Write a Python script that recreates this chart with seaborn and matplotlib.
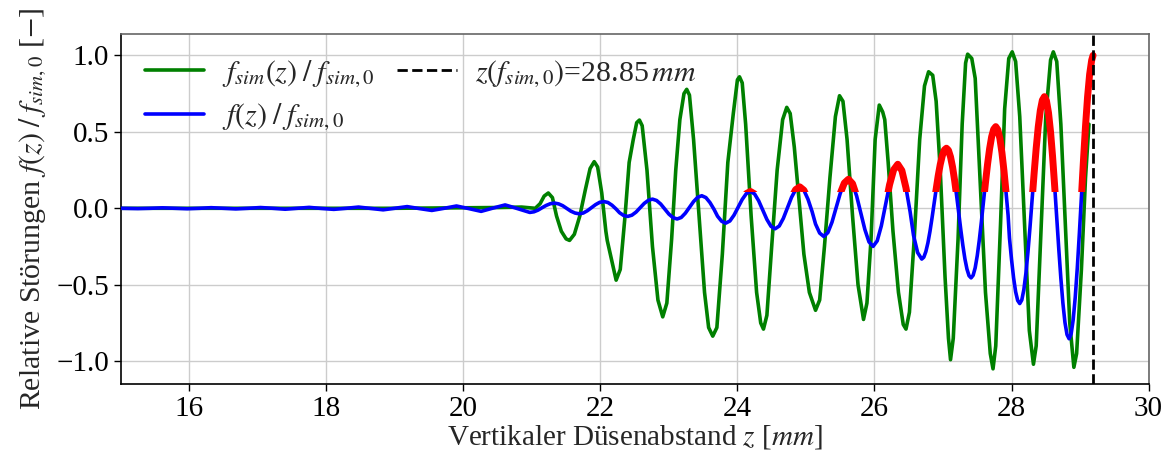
import numpy as np
import pandas as pd
import matplotlib
matplotlib.use("Agg")
import matplotlib.pyplot as plt
from matplotlib.patches import Rectangle
import seaborn as sns

# Simulated disturbance f_sim(z)/f_sim,0 along the nozzle distance z [mm]
z_sim = [15.00, 16.00, 17.00, 18.00, 19.00, 19.80, 20.50, 20.85, 20.95, 21.05,
         21.12, 21.18, 21.24, 21.30, 21.36, 21.43, 21.50, 21.55, 21.62, 21.70,
         21.78, 21.85, 21.91, 21.96, 22.02, 22.08, 22.10, 22.16, 22.23, 22.29,
         22.36, 22.42, 22.48, 22.53, 22.57, 22.61, 22.68, 22.76, 22.84, 22.91,
         22.97, 23.04, 23.10, 23.16, 23.22, 23.26, 23.30, 23.36, 23.44, 23.52,
         23.58, 23.64, 23.70, 23.78, 23.86, 23.94, 24.00, 24.03, 24.07, 24.12,
         24.20, 24.28, 24.34, 24.38, 24.43, 24.50, 24.58, 24.66, 24.72, 24.77,
         24.83, 24.90, 24.97, 25.05, 25.14, 25.20, 25.27, 25.35, 25.43, 25.49,
         25.54, 25.60, 25.68, 25.76, 25.84, 25.89, 25.95, 26.01, 26.07, 26.12,
         26.15, 26.20, 26.27, 26.35, 26.42, 26.46, 26.51, 26.58, 26.66, 26.73,
         26.79, 26.85, 26.90, 26.96, 27.03, 27.08, 27.11, 27.15, 27.22, 27.28,
         27.33, 27.36, 27.42, 27.47, 27.54, 27.62, 27.69, 27.73, 27.77, 27.84,
         27.90, 27.96, 28.01, 28.06, 28.12, 28.19, 28.26, 28.32, 28.36, 28.43,
         28.50, 28.57, 28.61, 28.66, 28.72, 28.79, 28.85, 28.91, 28.95, 29.02,
         29.08, 29.13]
f_sim = [0.000, 0.000, 0.000, 0.000, 0.000, 0.003, 0.005, 0.008, 0.004, 0.000,
         0.030, 0.080, 0.100, 0.070, -0.050, -0.150, -0.200, -0.210, -0.170, -0.050,
         0.120, 0.260, 0.305, 0.270, 0.100, -0.150, -0.210, -0.330, -0.470, -0.400,
         -0.050, 0.300, 0.450, 0.560, 0.577, 0.540, 0.250, -0.250, -0.600, -0.710,
         -0.620, -0.200, 0.250, 0.580, 0.750, 0.778, 0.740, 0.450, -0.050, -0.550,
         -0.780, -0.836, -0.780, -0.300, 0.300, 0.620, 0.840, 0.860, 0.820, 0.550,
         -0.050, -0.550, -0.750, -0.790, -0.700, -0.250, 0.250, 0.580, 0.660, 0.620,
         0.400, 0.050, -0.300, -0.550, -0.667, -0.600, -0.250, 0.200, 0.600, 0.736,
         0.700, 0.450, -0.050, -0.500, -0.727, -0.620, -0.200, 0.450, 0.675, 0.630,
         0.580, 0.300, -0.150, -0.550, -0.760, -0.790, -0.680, -0.200, 0.450, 0.800,
         0.893, 0.870, 0.700, 0.250, -0.450, -0.850, -0.990, -0.850, -0.200, 0.550,
         0.950, 1.008, 0.980, 0.850, 0.200, -0.550, -0.950, -1.050, -0.900, -0.100,
         0.650, 0.980, 1.023, 0.960, 0.600, -0.100, -0.800, -1.020, -0.900, -0.150,
         0.600, 0.970, 1.023, 0.960, 0.550, -0.150, -0.750, -1.040, -0.950, -0.400,
         0.200, 0.550]

# Model disturbance f(z)/f_sim,0
z_mod = [15.00, 15.25, 15.43, 15.61, 15.79, 15.97, 16.15, 16.32, 16.50, 16.68,
         16.86, 17.04, 17.22, 17.40, 17.58, 17.75, 17.93, 18.11, 18.29, 18.47,
         18.65, 18.83, 19.00, 19.18, 19.36, 19.54, 19.72, 19.90, 20.08, 20.26,
         20.43, 20.61, 20.79, 20.97,
         21.03, 21.09, 21.15, 21.21, 21.27, 21.33,
         21.39, 21.45, 21.51, 21.57, 21.63, 21.69,
         21.75, 21.81, 21.87, 21.93, 21.99, 22.05,
         22.11, 22.17, 22.23, 22.28, 22.34, 22.40,
         22.46, 22.52, 22.58, 22.64, 22.70, 22.76,
         22.82, 22.88, 22.94, 23.00, 23.06, 23.12,
         23.18, 23.24, 23.30, 23.36, 23.42, 23.48,
         23.54, 23.60, 23.66, 23.71, 23.77, 23.83,
         23.89, 23.95, 24.01, 24.07, 24.13, 24.19,
         24.25, 24.31, 24.37, 24.43, 24.49, 24.55,
         24.61, 24.67, 24.73, 24.79, 24.85, 24.91,
         24.97, 25.03, 25.09, 25.14, 25.20, 25.26,
         25.32, 25.38, 25.44, 25.50, 25.56, 25.62,
         25.68, 25.74, 25.80, 25.86, 25.92, 25.98,
         26.04, 26.10, 26.16, 26.22, 26.28, 26.34,
         26.40, 26.46, 26.52, 26.57, 26.63, 26.69,
         26.72, 26.75, 26.78, 26.81, 26.84, 26.87, 26.90, 26.93, 26.96, 26.99, 27.02, 27.05,
         27.08, 27.11, 27.14, 27.17, 27.20, 27.23, 27.26, 27.29, 27.32, 27.35, 27.38, 27.41,
         27.44, 27.47, 27.50, 27.53, 27.56, 27.59, 27.62, 27.65, 27.68, 27.71, 27.74, 27.77,
         27.80, 27.83, 27.86, 27.89, 27.92, 27.95, 27.97, 28.00, 28.03, 28.06, 28.09, 28.12,
         28.15, 28.18, 28.21, 28.24, 28.27, 28.30, 28.33, 28.36, 28.39, 28.42, 28.45, 28.48,
         28.51, 28.54, 28.57, 28.60, 28.63, 28.66, 28.69, 28.72, 28.75, 28.78, 28.81, 28.84,
         28.87, 28.90, 28.93, 28.96, 28.99, 29.02, 29.05, 29.08, 29.11, 29.14, 29.17, 29.19]
f_mod = [0.000, -0.002, 0.000, 0.003, 0.000, -0.003, 0.000, 0.004, 0.000, -0.004,
         0.000, 0.005, -0.000, -0.006, 0.000, 0.006, -0.001, -0.007, 0.000, 0.008,
         -0.001, -0.010, 0.000, 0.011, -0.002, -0.014, 0.000, 0.015, -0.002, -0.020,
         0.001, 0.022, -0.002, -0.027,
         -0.023, -0.012, 0.004, 0.019, 0.030, 0.034,
         0.029, 0.017, -0.001, -0.019, -0.031, -0.036,
         -0.031, -0.016, 0.004, 0.024, 0.039, 0.044,
         0.038, 0.020, -0.005, -0.029, -0.047, -0.053,
         -0.045, -0.025, 0.004, 0.032, 0.052, 0.060,
         0.051, 0.028, -0.005, -0.038, -0.061, -0.070,
         -0.060, -0.032, 0.006, 0.044, 0.072, 0.082,
         0.070, 0.037, -0.008, -0.052, -0.085, -0.097,
         -0.083, -0.045, 0.007, 0.058, 0.096, 0.110,
         0.094, 0.049, -0.012, -0.073, -0.118, -0.134,
         -0.116, -0.066, 0.003, 0.072, 0.122, 0.140,
         0.118, 0.059, -0.022, -0.103, -0.162, -0.184,
         -0.159, -0.091, 0.003, 0.097, 0.165, 0.190,
         0.161, 0.080, -0.030, -0.139, -0.220, -0.249,
         -0.213, -0.115, 0.020, 0.154, 0.252, 0.288,
         0.247, 0.133, -0.022, -0.177, -0.290, -0.332,
         -0.320, -0.283, -0.226, -0.151, -0.063, 0.031, 0.124, 0.212, 0.287, 0.344, 0.381, 0.393,
         0.379, 0.336, 0.269, 0.181, 0.079, -0.031, -0.141, -0.243, -0.331, -0.398, -0.441, -0.455,
         -0.438, -0.389, -0.310, -0.208, -0.089, 0.040, 0.168, 0.287, 0.389, 0.468, 0.517, 0.534,
         0.514, 0.457, 0.365, 0.245, 0.105, -0.045, -0.194, -0.334, -0.454, -0.546, -0.603, -0.623,
         -0.600, -0.532, -0.425, -0.285, -0.122, 0.054, 0.229, 0.392, 0.532, 0.639, 0.707, 0.730,
         0.703, 0.624, 0.498, 0.334, 0.144, -0.062, -0.267, -0.457, -0.621, -0.747, -0.826, -0.853,
         -0.822, -0.729, -0.582, -0.390, -0.166, 0.074, 0.313, 0.537, 0.729, 0.876, 0.969, 1.000]

# Crests of the model curve above this level are highlighted
crest_level = 0.1
z_ref_label = "28.85"

x_ticks = [16, 18, 20, 22, 24, 26, 28, 30]
y_ticks = [-1.0, -0.5, 0.0, 0.5, 1.0]

sns.set_theme(style="whitegrid")
plt.rcParams["font.family"] = ["Liberation Serif", "DejaVu Serif"]
plt.rcParams["mathtext.fontset"] = "stix"
plt.rcParams.update({
    "grid.color": "#cccccc",
    "grid.linewidth": 1.0,
    "xtick.bottom": True,
    "ytick.left": True,
    "xtick.direction": "out",
    "ytick.direction": "out",
    "xtick.major.size": 5,
    "ytick.major.size": 5,
    "xtick.color": "black",
    "ytick.color": "black",
})

sim_df = pd.DataFrame({"z": z_sim, "f": f_sim})
mod_df = pd.DataFrame({"z": z_mod, "f": f_mod})

fig, ax = plt.subplots(figsize=(11.72, 4.53), dpi=100)
fig.subplots_adjust(left=0.103, right=0.980, top=0.924, bottom=0.152)

sns.lineplot(data=sim_df, x="z", y="f", color="green", lw=2.6, sort=False,
             estimator=None, ax=ax, label=r"$f_{sim}(z)\;/\;f_{sim,0}$", zorder=2)
sns.lineplot(data=mod_df, x="z", y="f", color="blue", lw=2.6, sort=False,
             estimator=None, ax=ax, label=r"$f(z)\;/\;f_{sim,0}$", zorder=3)

# Red overlay of the same model curve, shown only above crest_level
n_before = len(ax.lines)
sns.lineplot(data=mod_df, x="z", y="f", color="red", lw=5, sort=False,
             estimator=None, ax=ax, zorder=4, legend=False)
crest_clip = Rectangle((15, crest_level + 0.005), 15, 2, transform=ax.transData)
for ln in ax.lines[n_before:]:
    ln.set_clip_path(crest_clip)

z_end = z_mod[-1]
ax.axvline(z_end, color="black", ls="--", lw=2, zorder=5,
           label=r"$z(f_{sim,0})$=" + z_ref_label + r"$\,mm$")

ax.set_xlim(15, 30)
ax.set_ylim(-1.15, 1.137)
ax.set_xticks(x_ticks)
ax.set_yticks(y_ticks)
ax.tick_params(labelsize=21, width=1)
ax.set_xlabel(r"Vertikaler Düsenabstand $z$ [$mm$]", fontsize=21, labelpad=1)
ax.set_ylabel(r"Relative Störungen $f(z)\;/\;f_{sim,0}$ [$-$]", fontsize=21.5, labelpad=5)

for side in ["left", "bottom"]:
    ax.spines[side].set_color("black")
for side in ["top", "right"]:
    ax.spines[side].set_color("#666666")
for s in ax.spines.values():
    s.set_linewidth(1.2)

handles, labels = ax.get_legend_handles_labels()
ax.legend(handles=handles, labels=labels, ncol=2, loc="upper left",
          frameon=False, fontsize=21.5, handlelength=2.0, handletextpad=0.6,
          columnspacing=0.75, labelspacing=0.4, borderaxespad=0.4)

fig.savefig("out.png", dpi=100)
